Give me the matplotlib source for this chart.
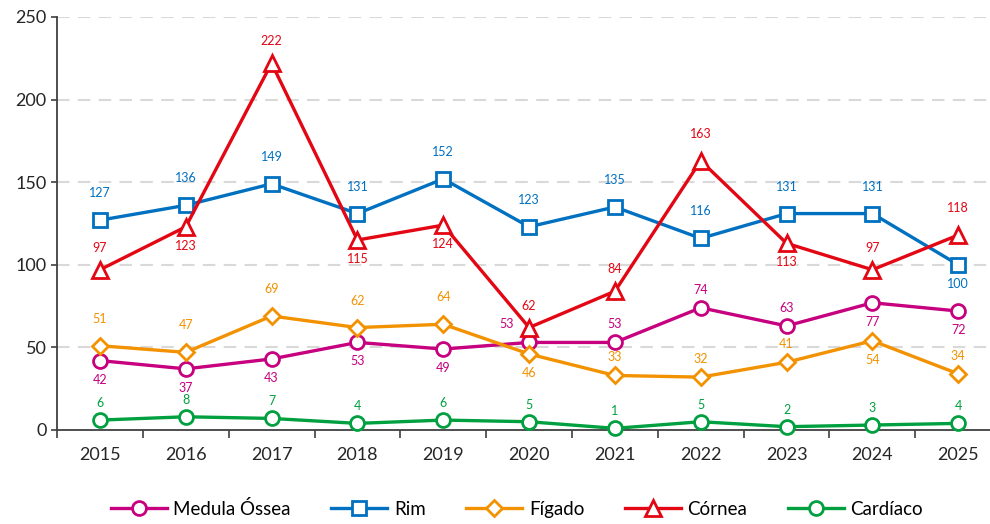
import matplotlib.pyplot as plt

plt.rcParams['font.family'] = ['Lato', 'DejaVu Sans']

anos = ['2015', '2016', '2017', '2018', '2019', '2020', '2021', '2022', '2023', '2024', '2025']
medula = [42, 37, 43, 53, 49, 53, 53, 74, 63, 77, 72]
rim = [127, 136, 149, 131, 152, 123, 135, 116, 131, 131, 100]
figado = [51, 47, 69, 62, 64, 46, 33, 32, 41, 54, 34]
cornea = [97, 123, 222, 115, 124, 62, 84, 163, 113, 97, 118]
cardiaco = [6, 8, 7, 4, 6, 5, 1, 5, 2, 3, 4]

# posicao dos rotulos: 'a' acima, 'A' bem acima, 'b' abaixo, 'e' acima-esquerda
pos_medula = ['b', 'b', 'b', 'b', 'b', 'e', 'a', 'a', 'a', 'b', 'b']
pos_rim = ['A'] * 10 + ['b']
pos_figado = ['A', 'A', 'A', 'A', 'A', 'b', 'a', 'a', 'a', 'b', 'a']
pos_cornea = ['a', 'b', 'a', 'b', 'b', 'a', 'a', 'A', 'b', 'a', 'A']
pos_cardiaco = ['a'] * 11

# nome, valores, cor, marcador, tamanho, posicoes, distancia acima (px)
series = [
    ('Medula Óssea', medula, '#C6007E', 'o', 10, pos_medula, 18),
    ('Rim', rim, '#0070C0', 's', 10, pos_rim, 27),
    ('Fígado', figado, '#F39200', 'D', 8, pos_figado, 18),
    ('Córnea', cornea, '#E30613', '^', 11, pos_cornea, 22),
    ('Cardíaco', cardiaco, '#00A040', 'o', 10, pos_cardiaco, 17),
]

fig = plt.figure(figsize=(9.9, 5.24), dpi=100)
ax = fig.add_axes([0.0576, 0.1794, 0.9424, 0.7882])

x = list(range(len(anos)))
for nome, vals, cor, mk, ms, pos, acima in series:
    ax.plot(x, vals, color=cor, lw=2.4, marker=mk, ms=ms, mfc='white',
            mec=cor, mew=2.0, label=nome, clip_on=False, zorder=3)
    for xi, v, p in zip(x, vals, pos):
        if p == 'a':
            off = (0, acima)
        elif p == 'A':
            off = (0, 27)
        elif p == 'b':
            off = (0, -19)
        else:
            off = (-22, 18)
        ax.annotate(str(v), (xi, v), xytext=off, textcoords='offset pixels',
                    ha='center', va='center', fontsize=9, color=cor)

ax.set_yticks(range(0, 251, 50))
ax.set_xticks(x)
ax.set_xticklabels(anos, fontsize=13)
ax.set_xticks([i + 0.5 for i in range(-1, 10)], minor=True)
ax.set_xlim(-0.5, 10.37)
ax.set_ylim(0, 250)
ax.tick_params(axis='x', which='major', length=0, pad=12, colors='#262626')
ax.tick_params(axis='x', which='minor', length=6, width=1.2, color='#404040')
ax.tick_params(axis='y', labelsize=13, length=4, width=1.2, color='#404040',
               labelcolor='#262626')

for v in range(50, 251, 50):
    ax.axhline(v, color='#D9D9D9', lw=1.5, ls=(0, (6, 4)), zorder=1)

ax.spines['top'].set_visible(False)
ax.spines['right'].set_visible(False)
ax.spines['left'].set_color('#404040')
ax.spines['bottom'].set_color('#404040')
ax.spines['left'].set_linewidth(1.3)
ax.spines['bottom'].set_linewidth(1.3)

fig.legend(loc='lower center', bbox_to_anchor=(0.522, -0.02), ncol=5, frameon=False,
           fontsize=13.5, handlelength=3.0, columnspacing=2.15, handletextpad=0.35)

fig.savefig('out.png', dpi=100)
